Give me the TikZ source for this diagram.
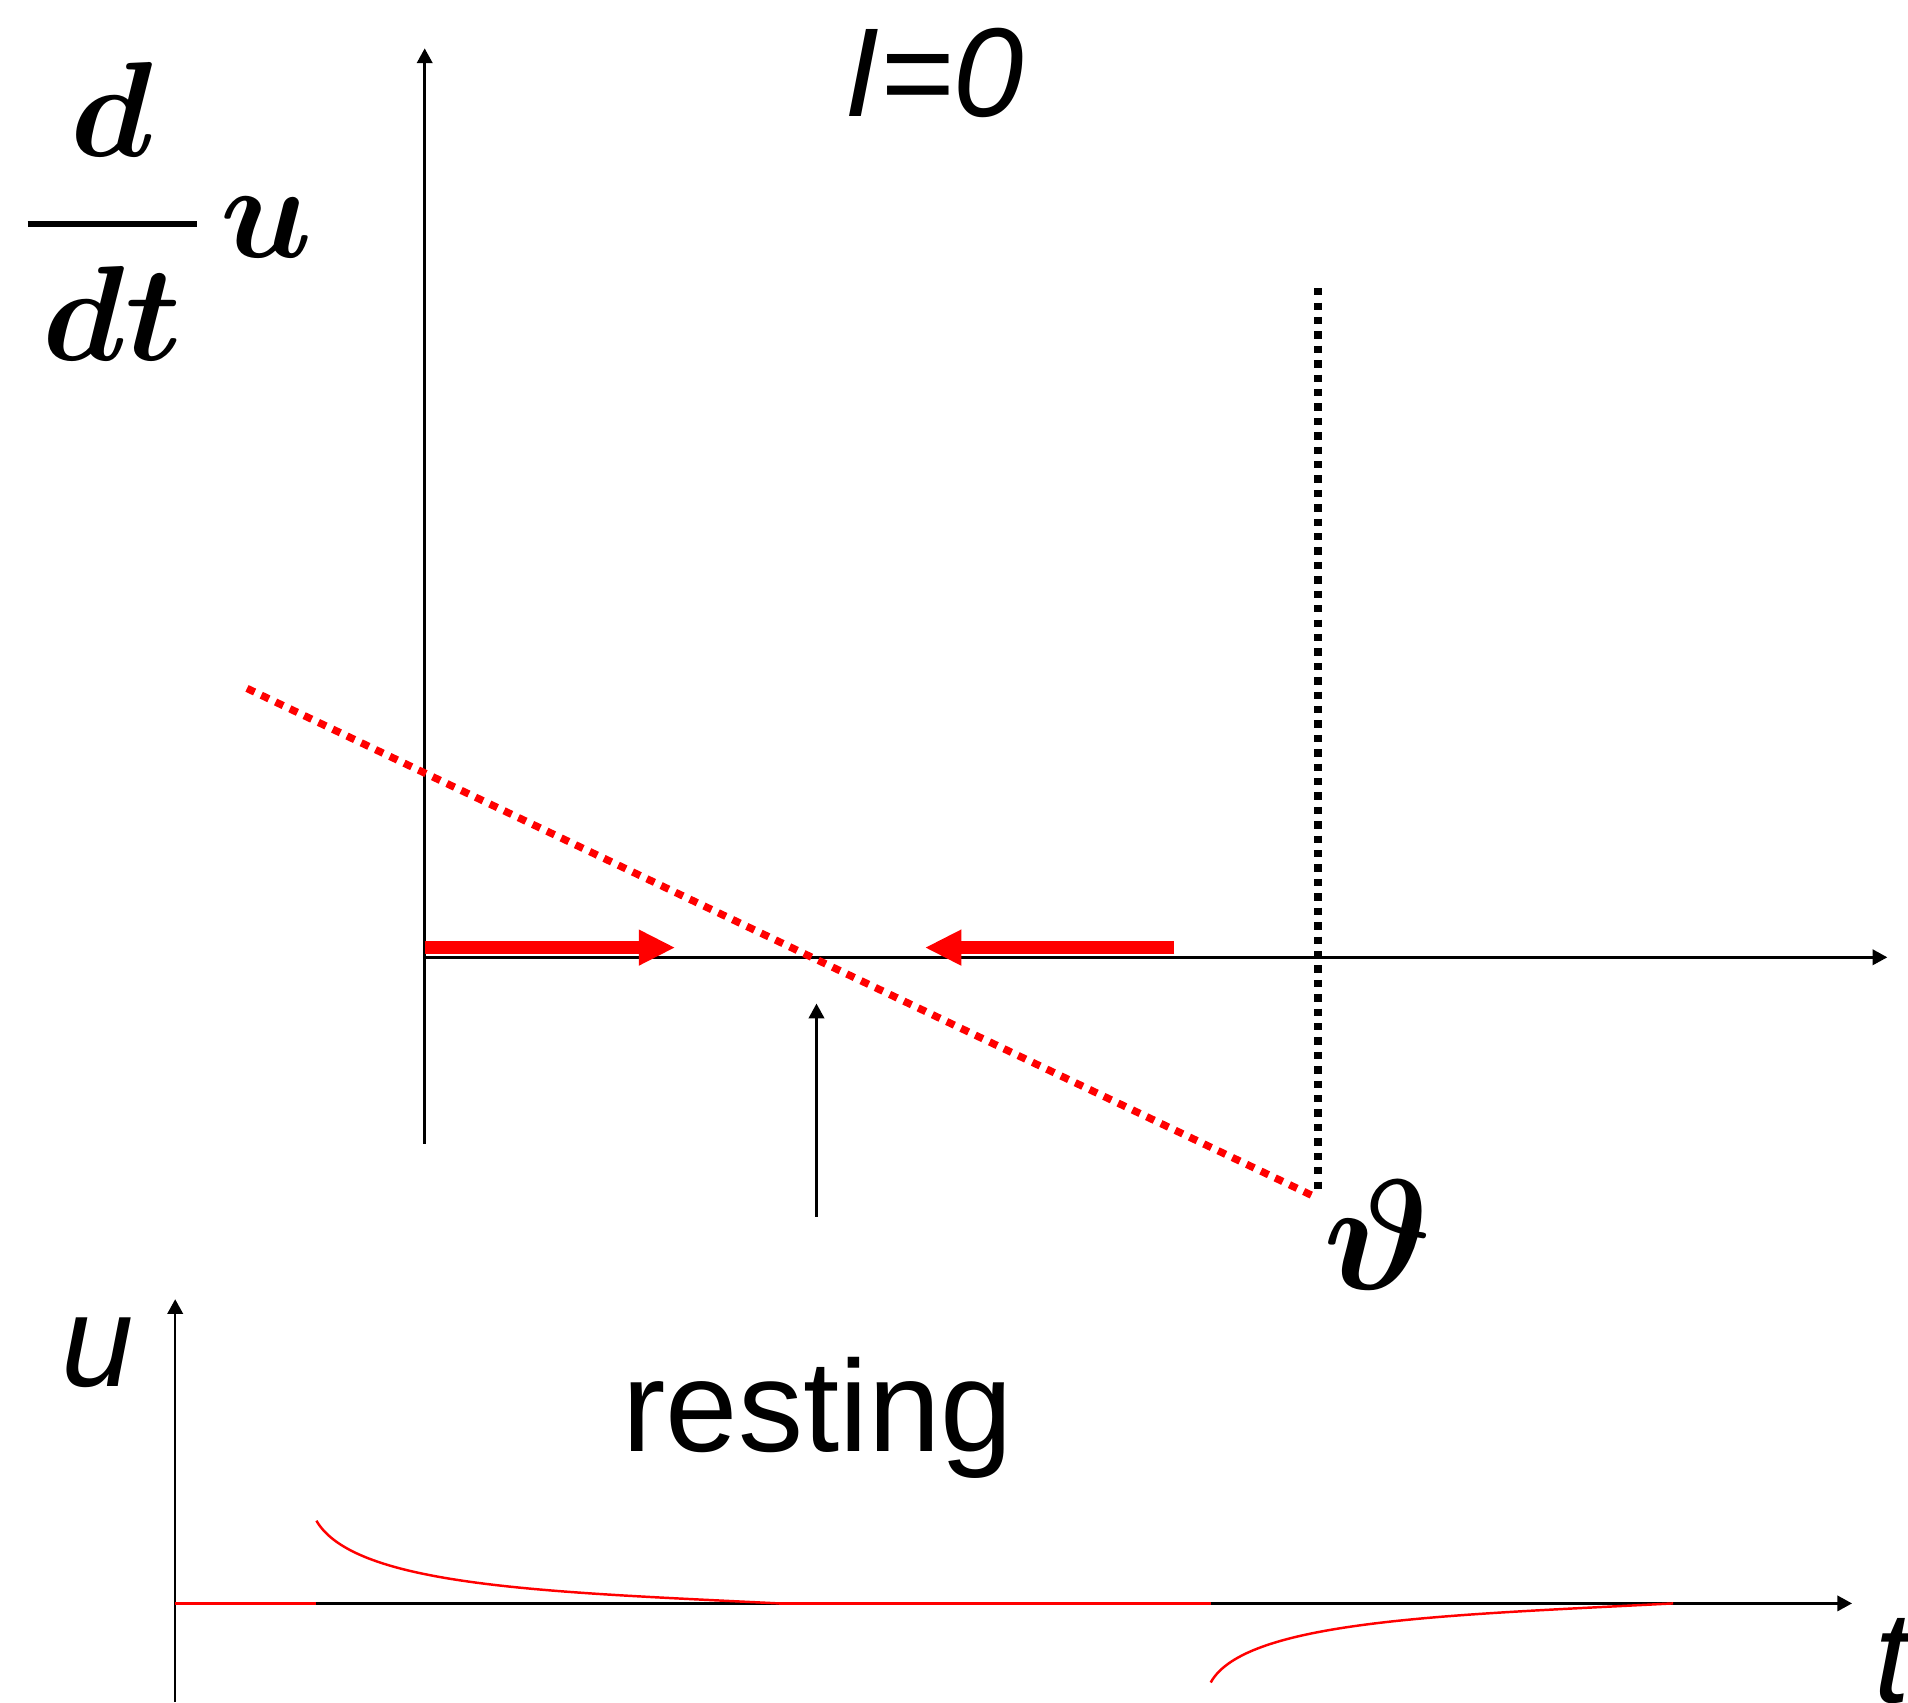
\documentclass[tikz,border=0pt]{standalone}
\usepackage{amsmath}
\usepackage{fontspec}
\setmainfont{Liberation Sans}
\usetikzlibrary{arrows.meta}

\tikzset{
  axis/.style={line width=0.7pt, -{Triangle[length=4.2pt,width=4.4pt]}},
  flowarrow/.style={red, line width=3.5pt, -{Triangle[length=10.4pt,width=9.5pt]}},
  nullcline/.style={red, line width=2.1pt, dash pattern=on 2.4pt off 2.1pt},
  thresh/.style={black, line width=2.3pt, dash pattern=on 2.1pt off 2pt},
  trace/.style={red, line width=0.7pt},
  bigtext/.style={font=\fontsize{37}{40}\selectfont, inner sep=0pt},
  bigmath/.style={inner sep=0pt, font=\fontsize{24.88}{28}\selectfont\boldmath, transform shape},
}

\begin{document}
\begin{tikzpicture}
  \useasboundingbox (0,0) rectangle (19.08,17.02);
  % Phase plot axes
  \coordinate (O) at (4.247,7.447);
  \coordinate (ytop) at (4.247,16.536);
  \coordinate (ybot) at (4.247,5.585);
  \coordinate (xend) at (18.873,7.447);
  \draw[axis] (ybot) -- (ytop);
  \draw[axis] (O) -- (xend);
  % Flow on the u axis
  \draw[flowarrow] (4.247,7.544) -- (6.753,7.544);
  \draw[flowarrow] (11.742,7.544) -- (9.248,7.544);
  % du/dt line and threshold
  \draw[nullcline] (2.470,10.136) -- (13.178,5.038);
  \draw[thresh] (13.178,14.139) -- (13.178,5.123);
  % Fixed point marker
  \coordinate (fixlow) at (8.165,4.855);
  \coordinate (fixup) at (8.165,6.984);
  \draw[axis] (fixlow) -- (fixup);
  % Labels
  \node[bigmath, scale=1.55, anchor=base west] (didu) at (0.2,14.44) {$\dfrac{\;d\;}{dt}\mkern2mu u$};
  \node[bigtext, anchor=base, font=\fontsize{36}{40}\selectfont\itshape] (izero) at (9.345,15.855) {I=0};
  \node[bigmath, scale=1.8] (theta) at (13.78,4.673) {$\vartheta$};
  \node[bigtext, anchor=base] (rest) at (8.177,2.507) {resting};

  % Time course axes
  \coordinate (T) at (1.752,0.986);
  \coordinate (uend) at (1.752,4.028);
  \coordinate (tend) at (18.520,0.986);
  \draw[axis] (1.752,0) -- (uend);
  \draw[axis] (T) -- (tend);
  \node[bigtext, anchor=base, font=\fontsize{37}{40}\selectfont\itshape] (ulabel) at (0.973,3.152) {u};
  \node[bigtext, anchor=base west, font=\fontsize{37}{40}\selectfont\itshape] (tlabel) at (18.74,0.0) {t};
  % Trajectories
  \draw[trace] (T) -- (3.164,0.986);
  \draw[trace] (3.164,1.813) .. controls (3.55,1.15) and (5.5,1.10) .. (7.788,0.986);
  \draw[trace] (7.788,0.986) -- (12.107,0.986);
  \draw[trace] (12.107,0.195) .. controls (12.45,0.82) and (14.5,0.87) .. (16.731,0.986);
\end{tikzpicture}
\end{document}
